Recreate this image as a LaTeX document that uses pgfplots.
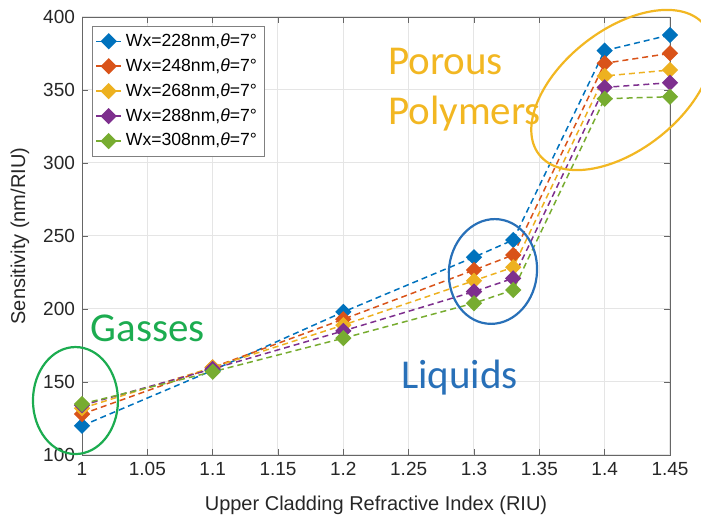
\documentclass[border=0pt]{standalone}
\usepackage{pgfplots}
\pgfplotsset{compat=1.18}
\usepackage{fontspec}
\setmainfont{Liberation Sans}
\newfontfamily\calib{Carlito}
\usetikzlibrary{shapes.geometric}

% MATLAB default line colours
\definecolor{mblue}{rgb}{0,0.447,0.741}
\definecolor{morange}{rgb}{0.85,0.325,0.098}
\definecolor{myellow}{rgb}{0.929,0.694,0.125}
\definecolor{mpurple}{rgb}{0.494,0.184,0.556}
\definecolor{mgreen}{rgb}{0.466,0.674,0.188}
% annotation colours
\definecolor{agreen}{RGB}{28,172,80}
\definecolor{ablue}{RGB}{40,112,184}
\definecolor{agold}{RGB}{242,183,34}

\pgfplotstableread{
n     w228  w248  w268  w288  w308
1.00  120   128   132   134   135
1.10  158   160   160   159   157
1.20  198   193   189   185   180
1.30  235.5 226.7 219.4 211.9 204
1.33  247.3 237   228.6 221   213
1.40  377   368.3 359.6 351.8 344
1.45  387.7 375.1 363.7 355   345.4
}\sens

\begin{document}
\begin{tikzpicture}
\begin{axis}[
  at={(0,0)}, anchor=south west,
  scale only axis,
  width=294pt, height=219pt,
  xmin=1, xmax=1.45, ymin=100, ymax=400,
  xtick={1,1.05,...,1.45},
  ytick={100,150,...,400},
  xticklabels={1,1.05,1.1,1.15,1.2,1.25,1.3,1.35,1.4,1.45},
  tick align=inside,
  major tick length=3pt,
  tick style={black!60},
  axis line style={black!60},
  grid=major,
  grid style={black!10, line width=0.5pt},
  /pgf/number format/assume math mode=true,
  tick label style={font=\fontsize{9.5}{11}\selectfont, text=black!85},
  xlabel={Upper Cladding Refractive Index (RIU)},
  ylabel={Sensitivity (nm/RIU)},
  label style={font=\fontsize{10}{12}\selectfont, text=black!85},
  xlabel style={at={(axis description cs:0.5,-0.114)}, anchor=center},
  ylabel style={at={(axis description cs:-0.1054,0.5)}, anchor=center},
  clip=false,
  legend style={at={(0,1)}, anchor=north west, xshift=5pt, yshift=-4.5pt,
    draw=black!50, fill=white, font=\fontsize{8.8}{10}\selectfont,
    row sep=0.6pt, inner sep=1.5pt},
  legend cell align=left,
  legend image code/.code={%
    \draw[mark repeat=2, mark phase=2] plot coordinates {(0cm,0cm) (0.22cm,0cm) (0.44cm,0cm)};},
  every axis plot/.append style={dashed, line width=0.75pt,
    dash pattern=on 3pt off 2pt, mark=square*, mark size=2.5pt},
]
\addplot[mblue, mark options={solid, rotate=45, fill=mblue}] table[x=n, y=w228] {\sens};
\addlegendentry{Wx=228nm,\textit{θ}=7°}
\addplot[morange, mark options={solid, rotate=45, fill=morange}] table[x=n, y=w248] {\sens};
\addlegendentry{Wx=248nm,\textit{θ}=7°}
\addplot[myellow, mark options={solid, rotate=45, fill=myellow}] table[x=n, y=w268] {\sens};
\addlegendentry{Wx=268nm,\textit{θ}=7°}
\addplot[mpurple, mark options={solid, rotate=45, fill=mpurple}] table[x=n, y=w288] {\sens};
\addlegendentry{Wx=288nm,\textit{θ}=7°}
\addplot[mgreen, mark options={solid, rotate=45, fill=mgreen}] table[x=n, y=w308] {\sens};
\addlegendentry{Wx=308nm,\textit{θ}=7°}

% regions of the three sensing media
\node[draw=agreen, line width=1.1pt, ellipse, minimum width=42.5pt,
  minimum height=53.5pt, inner sep=0pt] at (axis cs:0.995,137.3) {};
\node[draw=ablue, line width=1.1pt, ellipse, minimum width=44pt,
  minimum height=52.5pt, inner sep=0pt, rotate=-7] at (axis cs:1.3145,225.7) {};
\node[draw=agold, line width=1.1pt, ellipse, minimum width=105pt,
  minimum height=60pt, inner sep=0pt, rotate=38] at (axis cs:1.4132,350) {};

\node[text=agreen, font=\calib\fontsize{20.5}{24}\selectfont] at (axis cs:1.0505,187) {Gasses};
\node[text=ablue, font=\calib\fontsize{20.5}{24}\selectfont] at (axis cs:1.289,152.7) {Liquids};
\node[text=agold, font=\calib\fontsize{20.5}{25}\selectfont, align=left, anchor=west,
  inner sep=0pt] at (axis cs:1.234,350) {Porous\\Polymers};
\end{axis}
\pgfresetboundingbox
\path[use as bounding box] (-41pt,-32pt) rectangle (309.5pt,227.5pt);
\end{tikzpicture}
\end{document}
